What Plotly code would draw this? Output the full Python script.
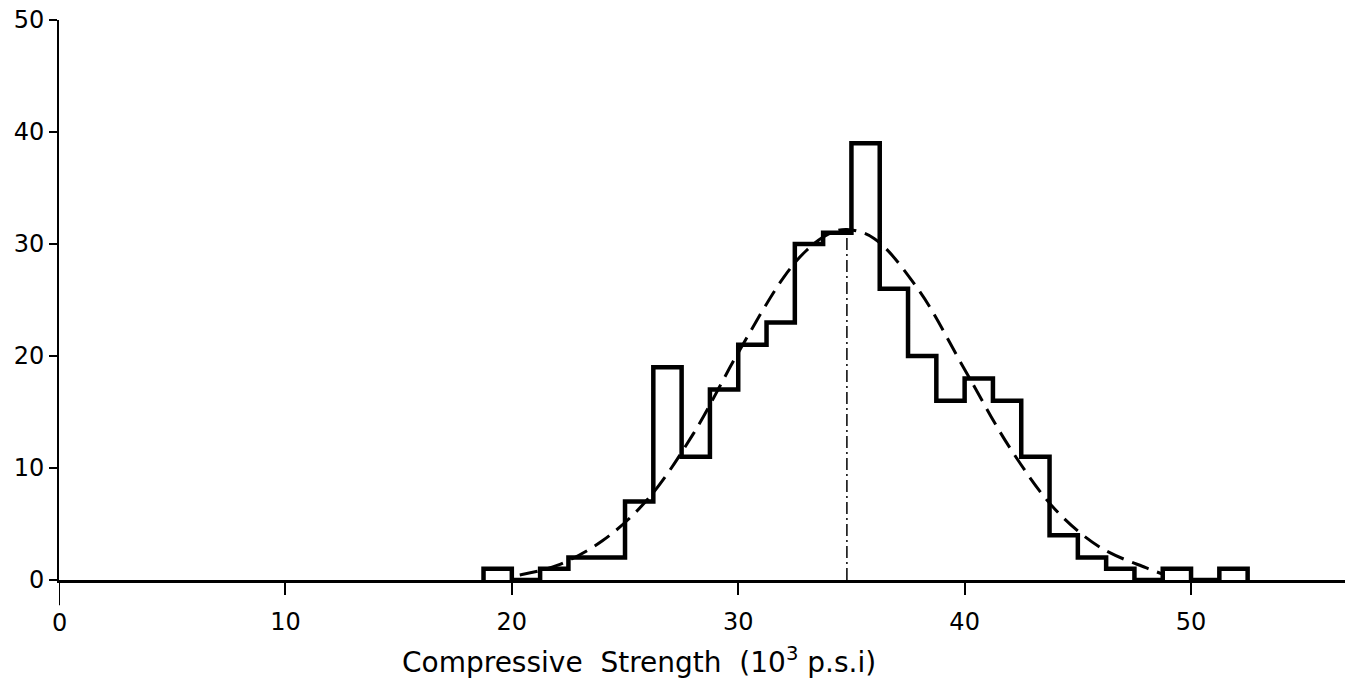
import plotly.graph_objects as go

# Histogram of compressive strength (bin width 1.25 x 10^3 psi)
bin_edges = [18.75, 20.0, 21.25, 22.5, 23.75, 25.0, 26.25, 27.5, 28.75, 30.0,
             31.25, 32.5, 33.75, 35.0, 36.25, 37.5, 38.75, 40.0, 41.25, 42.5,
             43.75, 45.0, 46.25, 47.5, 48.75, 50.0, 51.25, 52.5]
counts = [1, 0, 1, 2, 2, 7, 19, 11, 17, 21,
          23, 30, 31, 39, 26, 20, 16, 18, 16, 11,
          4, 2, 1, 0, 1, 0, 1]

# Fitted curve (dashed)
curve_x = [20.35, 22, 24, 26, 28, 30, 32, 33, 34, 34.8, 36, 38, 40, 42, 44, 46, 48, 48.8]
curve_y = [0.45, 1.3, 3.5, 7.2, 13.0, 20.3, 27.0, 29.4, 30.9, 31.3, 30.5, 25.8, 18.8, 11.8, 6.3, 2.9, 1.1, 0.5]

mean_x = 34.8
mean_peak = 31.3

x_ticks = [0, 10, 20, 30, 40, 50]
y_ticks = [0, 10, 20, 30, 40, 50]

step_x = [bin_edges[0]] + bin_edges
step_y = [0] + counts + [0]

fig = go.Figure()
fig.add_trace(go.Scatter(
    x=step_x, y=step_y, mode="lines", line=dict(shape="hv", color="black", width=4.5),
    hoverinfo="skip", showlegend=False))
fig.add_trace(go.Scatter(
    x=curve_x, y=curve_y, mode="lines",
    line=dict(shape="spline", color="black", width=3, dash="18px,9px"),
    showlegend=False))
fig.add_trace(go.Scatter(
    x=[mean_x, mean_x], y=[0, mean_peak], mode="lines",
    line=dict(color="black", width=1.5, dash="12px,4px,2px,4px"),
    showlegend=False))

font_family = "DejaVu Sans"
fig.update_layout(
    width=1351, height=682,
    margin=dict(l=59, r=6, t=20, b=102),
    plot_bgcolor="white", paper_bgcolor="white",
    font=dict(family=font_family, color="black", size=24),
    xaxis=dict(range=[0, 56.8], tickvals=[t for t in x_ticks if t != 0], ticks="outside", ticklen=12,
               tickwidth=1.5, tickcolor="black", showline=True, linecolor="black",
               linewidth=3, showgrid=False, zeroline=False, ticklabelstandoff=6,
               tickfont=dict(size=24)),
    yaxis=dict(range=[0, 50], tickvals=y_ticks, ticks="outside", ticklen=8,
               tickwidth=1.5, tickcolor="black", showline=True, linecolor="black",
               linewidth=2, showgrid=False, zeroline=False, ticklabelstandoff=0,
               tickfont=dict(size=24)),
    shapes=[dict(type="line", xref="x", yref="paper", x0=0, x1=0, y0=0, y1=-0.045,
                 line=dict(color="black", width=2))],
    annotations=[
        dict(text="0", xref="x", yref="paper", x=0, y=-0.048, xanchor="center", yanchor="top",
             showarrow=False, font=dict(size=24, family=font_family)),
        dict(text="Compressive  Strength  (10<sup>3</sup> p.s.i)", xref="paper", yref="paper",
             x=0.451, y=-0.143, xanchor="center", yanchor="middle", showarrow=False,
             font=dict(size=28, family=font_family))],
)
fig.write_html("out.html")
